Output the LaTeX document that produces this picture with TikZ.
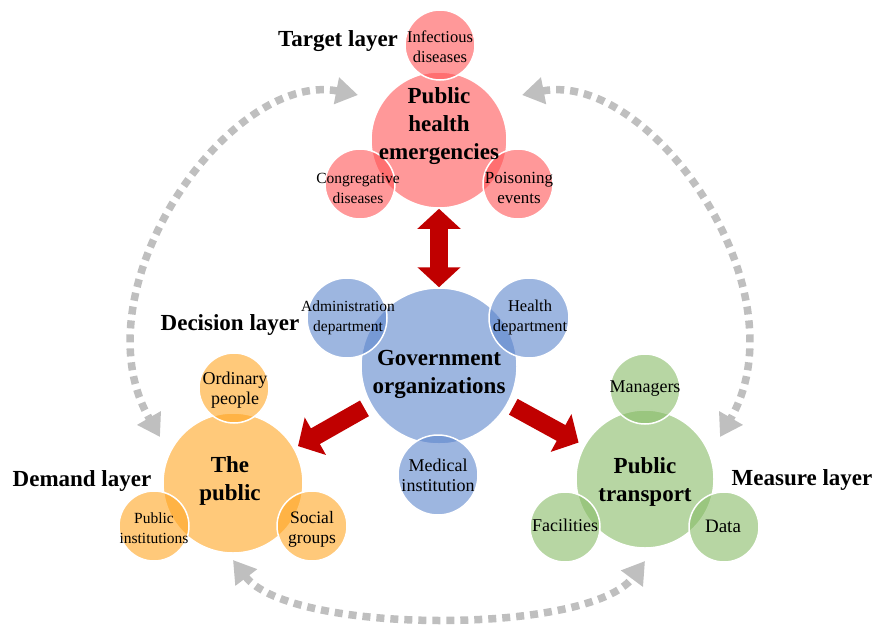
\documentclass[tikz,border=0pt]{standalone}
\usepackage{fontspec}
\setmainfont{Liberation Serif}
\usepackage{tikz}
\usetikzlibrary{arrows.meta}
\usetikzlibrary{positioning}
\tikzset{bub/.style = {circle, inner sep = 0, minimum size = #1, draw = white, line width = 1.5pt, fill opacity = 0.6}}
\tikzset{maintext/.style = {align = center, font = \fontsize{23}{28}\selectfont\bfseries}}
\tikzset{subtext/.style = {align = center, font = \fontsize{#1}{20}\selectfont}, subtext/.default = 17}
\tikzset{layerlabel/.style = {font = \fontsize{23}{28}\selectfont\bfseries}}
\tikzset{bigarrow/.style = {mdark, line width = 18pt, >={Triangle[width = 42pt, length = 20pt]}}}
\tikzset{grayarc/.style = {mgray, line width = 7.5pt, dash pattern = on 8pt off 6pt, >={Triangle[width = 26pt, length = 22pt]}, <->}}
\definecolor{mred}{rgb}{1, 0.325, 0.333}
\definecolor{mblue}{rgb}{0.36, 0.52, 0.80}
\definecolor{morange}{rgb}{1, 0.647, 0.129}
\definecolor{mgreen}{rgb}{0.53, 0.733, 0.4}
\definecolor{mdark}{rgb}{0.753, 0, 0}
\definecolor{mgray}{rgb}{0.75, 0.75, 0.75}

\begin{document}
\begin{tikzpicture}[x = 1pt, y = -1pt]
    \useasboundingbox (0, 0) rectangle (878, 627);

    \node [bub = 136pt, fill = mred] (phe) at (439, 140) {};
    \node [bub = 70pt, fill = mred] (inf) at (440, 45) {};
    \node [bub = 70pt, fill = mred] (cong) at (360, 184) {};
    \node [bub = 70pt, fill = mred] (pois) at (518, 184) {};

    \node [bub = 156pt, fill = mblue] (gov) at (439, 366) {};
    \node [bub = 80pt, fill = mblue] (adm) at (347, 318) {};
    \node [bub = 80pt, fill = mblue] (hlth) at (529, 318) {};
    \node [bub = 80pt, fill = mblue] (med) at (438, 475) {};

    \node [bub = 140pt, fill = morange] (pub) at (233, 483) {};
    \node [bub = 70pt, fill = morange] (ord) at (234, 388) {};
    \node [bub = 70pt, fill = morange] (pinst) at (154, 526) {};
    \node [bub = 70pt, fill = morange] (soc) at (312, 526) {};

    \node [bub = 138pt, fill = mgreen] (trans) at (645, 479) {};
    \node [bub = 70pt, fill = mgreen] (man) at (645, 389) {};
    \node [bub = 70pt, fill = mgreen] (fac) at (565, 527) {};
    \node [bub = 70pt, fill = mgreen] (dat) at (724, 527) {};

    \draw [bigarrow, <->] (phe) -- (gov);
    \draw [bigarrow, ->, shorten < = 7pt, shorten > = 4pt] (gov) -- (pub);
    \draw [bigarrow, ->, shorten < = 6pt, shorten > = 6pt] (gov) -- (trans);

    \coordinate (tl-a) at (358, 95);
    \coordinate (tl-b) at (160, 437);
    \coordinate (tr-a) at (522, 95);
    \coordinate (tr-b) at (720, 437);
    \coordinate (bt-a) at (233, 560);
    \coordinate (bt-b) at (645, 561);
    \draw [grayarc] (tl-a) .. controls (230, 70) and (75, 290) .. (tl-b);
    \draw [grayarc] (tr-a) .. controls (650, 70) and (805, 290) .. (tr-b);
    \draw [grayarc] (bt-a) .. controls (290, 635) and (590, 635) .. (bt-b);

    \node [maintext] (phe-t) at (439, 126) {Public\\health\\emergencies};
    \node [subtext = 16.5] (inf-t) at (440, 47) {Infectious\\diseases};
    \node [subtext = 15.5] (cong-t) at (358, 188) {Congregative\\diseases};
    \node [subtext] (pois-t) at (519, 188) {Poisoning\\events};

    \node [maintext] (gov-t) at (439, 374) {Government\\organizations};
    \node [subtext = 15.5] (adm-t) at (348, 318) {Administration\\department};
    \node [subtext = 16.5] (hlth-t) at (530, 318) {Health\\department};
    \node [subtext = 18] (med-t) at (438, 475) {Medical\\institution};

    \node [maintext] (pub-t) at (230, 481) {The\\public};
    \node [subtext = 18] (ord-t) at (235, 390) {Ordinary\\people};
    \node [subtext = 15.5] (pinst-t) at (154, 528) {Public\\institutions};
    \node [subtext = 17.5] (soc-t) at (312, 529) {Social\\groups};

    \node [maintext] (trans-t) at (645, 482) {Public\\transport};
    \node [subtext = 18] (man-t) at (645, 389) {Managers};
    \node [subtext = 18] (fac-t) at (565, 525) {Facilities};
    \node [subtext = 19] (dat-t) at (723, 526) {Data};

    \node [layerlabel] (target) at (338, 41) {Target layer};
    \node [layerlabel] (decision) at (230, 325) {Decision layer};
    \node [layerlabel] (demand) at (82, 481) {Demand layer};
    \node [layerlabel] (measure) at (802, 480) {Measure layer};
\end{tikzpicture}
\end{document}
